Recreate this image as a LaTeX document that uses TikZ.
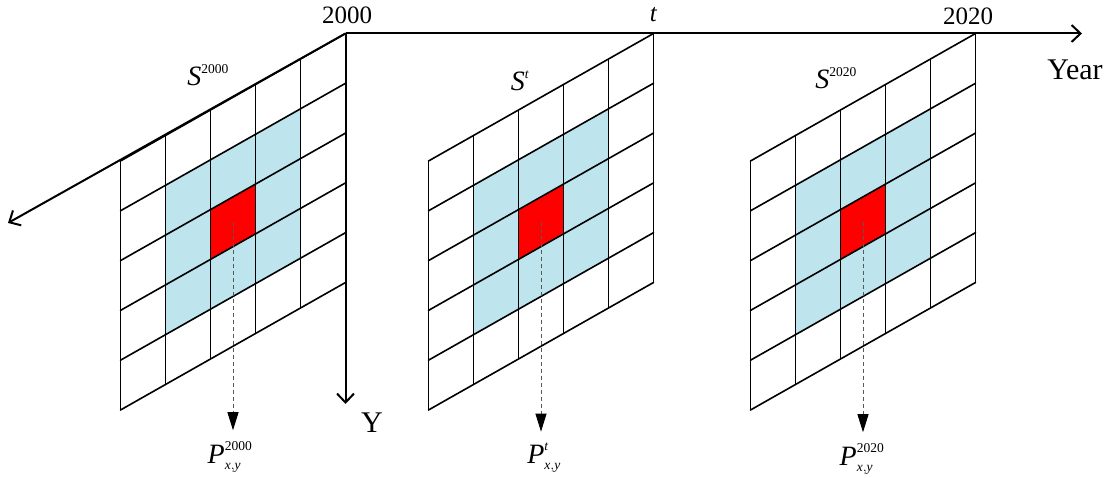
\documentclass[tikz,border=0pt]{standalone}
\usepackage{amsmath}
\usepackage{fontspec}
\setmainfont{Liberation Serif}
\usetikzlibrary{arrows.meta}
\DeclareMathSizes{28}{28}{13.5}{10}
\definecolor{cellblue}{RGB}{190,228,238}

\begin{document}
\begin{tikzpicture}[
    x=1pt, y=-1pt,
    gridline/.style={black, line width=1.6pt, line cap=round},
    axisline/.style={black, line width=2pt, -{Straight Barb[length=9pt, width=17pt]}},
    dasharrow/.style={black!65, line width=0.9pt, dash pattern=on 4pt off 3pt, -{Triangle[length=18pt, width=11pt, fill=black, color=black]}},
    ticklabel/.style={font=\fontsize{25}{30}\selectfont, inner sep=0pt},
    axislabel/.style={font=\fontsize{30}{36}\selectfont, inner sep=0pt},
    slabel/.style={font=\fontsize{28}{34}\selectfont, anchor=base, inner sep=0pt},
    plabel/.style={font=\fontsize{28}{34}\selectfont, anchor=base, inner sep=0pt, outer sep=11pt}
]
    \useasboundingbox (0,0) rectangle (1109,478);

    % --- GRIDS (one per year) ---
    \foreach \gx/\n in {120.5/1, 428.5/2, 750.5/3} {
        \begin{scope}[shift={(\gx,410)}, x={(45pt,25.5pt)}, y={(0pt,49.8pt)}]
            \fill[cellblue] (1,1) -- (4,1) -- (4,4) -- (1,4) -- cycle;
            \fill[red] (2,2) -- (3,2) -- (3,3) -- (2,3) -- cycle;
            \foreach \k in {0,...,5} {
                \draw[gridline] (\k,0) -- (\k,5);
                \draw[gridline] (0,\k) -- (5,\k);
            }
            \coordinate (c\n) at (2.5,2.5);
        \end{scope}
    }

    % --- AXES ---
    \coordinate (o1) at (345.5,33.5);
    \coordinate (yearend) at (1082,33.5);
    \coordinate (yend) at (345.5,404);
    \coordinate (xend) at (8,223);
    \draw[axisline] (o1) -- (yearend);
    \draw[axisline] (o1) -- (yend);
    \draw[axisline] (o1) -- (xend);

    \node[ticklabel] (t2000) at (347,15) {2000};
    \node[ticklabel] (tt) at (653.5,15) {\textit{t}};
    \node[ticklabel] (t2020) at (968,16) {2020};
    \node[axislabel] (year) at (1075,70) {Year};
    \node[axislabel] (ylab) at (372,423) {Y};

    % --- SNAPSHOT LABELS ---
    \node[slabel] (s1) at (208,86) {$\textit{S}^{\text{2000}}$};
    \node[slabel] (s2) at (520,91) {$\textit{S}^{\textit{t}}$};
    \node[slabel] (s3) at (836,89) {$\textit{S}^{\text{2020}}$};

    % --- PIXEL OUTPUTS ---
    \node[plabel] (p1) at (230,463) {$\textit{P}^{\text{2000}}_{\textit{x},\textit{y}}$};
    \node[plabel] (p2) at (544,463) {$\textit{P}^{\textit{t}}_{\textit{x},\textit{y}}$};
    \node[plabel] (p3) at (862,465) {$\textit{P}^{\text{2020}}_{\textit{x},\textit{y}}$};

    \draw[dasharrow] (c1) -- (c1 |- p1.north);
    \draw[dasharrow] (c2) -- (c2 |- p2.north);
    \draw[dasharrow] (c3) -- (c3 |- p3.north);
\end{tikzpicture}
\end{document}
